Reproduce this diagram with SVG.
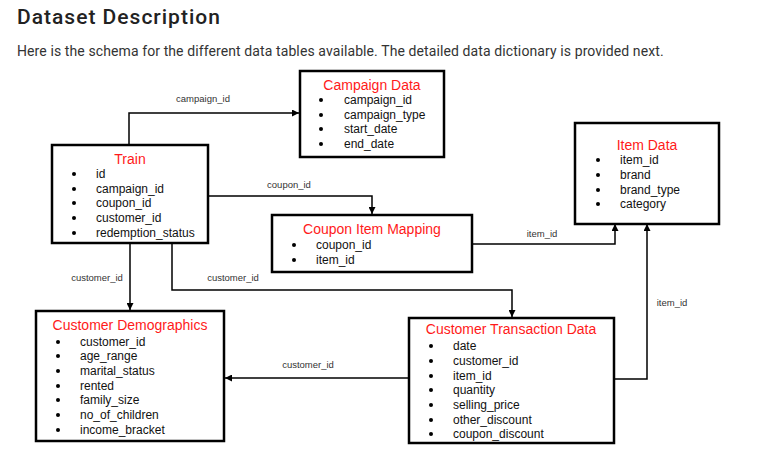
<svg xmlns="http://www.w3.org/2000/svg" width="764" height="470" viewBox="0 0 764 470">
<style>
.bg{fill:#fff}
.h1{font-family:Roboto,"Liberation Sans",sans-serif;font-size:21px;font-weight:500;fill:#222;letter-spacing:1px}
.sub{font-family:Roboto,"Liberation Sans",sans-serif;font-size:14px;fill:#333;letter-spacing:0.1px}
.box{fill:#fff;stroke:#000;stroke-width:2.5}
.ttl{font-family:"Liberation Sans",Arial,sans-serif;font-size:14px;fill:#ff1a1a;text-anchor:middle}
.it{font-family:"Liberation Sans",Arial,sans-serif;font-size:12px;fill:#111}
.bl{fill:#000}
.ln{fill:none;stroke:#000;stroke-width:1.5}
.lb{font-family:"Liberation Sans",Arial,sans-serif;font-size:9.5px;fill:#333;text-anchor:middle}
</style>
<defs>
<marker id="ar" viewBox="0 0 10 10" refX="10" refY="5" markerWidth="7" markerHeight="7" markerUnits="userSpaceOnUse" orient="auto">
<path d="M0,0 L10,5 L0,10 z" fill="#000"/>
</marker>
</defs>
<rect class="bg" x="0" y="0" width="764" height="470"/>
<text class="h1" x="17" y="24">Dataset Description</text>
<text class="sub" x="17" y="56">Here is the schema for the different data tables available. The detailed data dictionary is provided next.</text>

<g id="connectors">
<polyline class="ln" points="129,145 129,113 299,113" marker-end="url(#ar)"/>
<text class="lb" x="203" y="102">campaign_id</text>
<polyline class="ln" points="208,196 372,196 372,214" marker-end="url(#ar)"/>
<text class="lb" x="289" y="188">coupon_id</text>
<polyline class="ln" points="130,243 130,310" marker-end="url(#ar)"/>
<text class="lb" x="97" y="281">customer_id</text>
<polyline class="ln" points="172,243 172,290 512,290 512,317" marker-end="url(#ar)"/>
<text class="lb" x="233" y="281">customer_id</text>
<polyline class="ln" points="472,244 615,244 615,224" marker-end="url(#ar)"/>
<text class="lb" x="542" y="237">item_id</text>
<polyline class="ln" points="614,379 647,379 647,224" marker-end="url(#ar)"/>
<text class="lb" x="672" y="306">item_id</text>
<polyline class="ln" points="409,378 225,378" marker-end="url(#ar)"/>
<text class="lb" x="308" y="368">customer_id</text>
</g>

<g id="campaign">
<rect class="box" x="300" y="71" width="144" height="86"/>
<text class="ttl" x="372" y="90">Campaign Data</text>
<circle class="bl" cx="321" cy="100" r="2"/><text class="it" x="344" y="104">campaign_id</text>
<circle class="bl" cx="321" cy="115" r="2"/><text class="it" x="344" y="119">campaign_type</text>
<circle class="bl" cx="321" cy="129" r="2"/><text class="it" x="344" y="133">start_date</text>
<circle class="bl" cx="321" cy="144" r="2"/><text class="it" x="344" y="148">end_date</text>
</g>

<g id="train">
<rect class="box" x="52" y="145" width="156" height="98"/>
<text class="ttl" x="130" y="164">Train</text>
<circle class="bl" cx="74" cy="174" r="2"/><text class="it" x="96" y="178">id</text>
<circle class="bl" cx="74" cy="189" r="2"/><text class="it" x="96" y="193">campaign_id</text>
<circle class="bl" cx="74" cy="203" r="2"/><text class="it" x="96" y="207">coupon_id</text>
<circle class="bl" cx="74" cy="218" r="2"/><text class="it" x="96" y="222">customer_id</text>
<circle class="bl" cx="74" cy="233" r="2"/><text class="it" x="96" y="237">redemption_status</text>
</g>

<g id="item">
<rect class="box" x="575" y="123" width="144" height="101"/>
<text class="ttl" x="647" y="150">Item Data</text>
<circle class="bl" cx="598" cy="160" r="2"/><text class="it" x="620" y="164">item_id</text>
<circle class="bl" cx="598" cy="175" r="2"/><text class="it" x="620" y="179">brand</text>
<circle class="bl" cx="598" cy="190" r="2"/><text class="it" x="620" y="194">brand_type</text>
<circle class="bl" cx="598" cy="204" r="2"/><text class="it" x="620" y="208">category</text>
</g>

<g id="coupon">
<rect class="box" x="272" y="215" width="200" height="57"/>
<text class="ttl" x="372" y="234">Coupon Item Mapping</text>
<circle class="bl" cx="294" cy="245" r="2"/><text class="it" x="316" y="249">coupon_id</text>
<circle class="bl" cx="294" cy="260" r="2"/><text class="it" x="316" y="264">item_id</text>
</g>

<g id="demographics">
<rect class="box" x="36" y="311" width="188" height="130"/>
<text class="ttl" x="130" y="330">Customer Demographics</text>
<circle class="bl" cx="58" cy="342" r="2"/><text class="it" x="80" y="346">customer_id</text>
<circle class="bl" cx="58" cy="356" r="2"/><text class="it" x="80" y="360">age_range</text>
<circle class="bl" cx="58" cy="371" r="2"/><text class="it" x="80" y="375">marital_status</text>
<circle class="bl" cx="58" cy="386" r="2"/><text class="it" x="80" y="390">rented</text>
<circle class="bl" cx="58" cy="400" r="2"/><text class="it" x="80" y="404">family_size</text>
<circle class="bl" cx="58" cy="415" r="2"/><text class="it" x="80" y="419">no_of_children</text>
<circle class="bl" cx="58" cy="430" r="2"/><text class="it" x="80" y="434">income_bracket</text>
</g>

<g id="transaction">
<rect class="box" x="409" y="318" width="205" height="125"/>
<text class="ttl" x="511" y="334">Customer Transaction Data</text>
<circle class="bl" cx="431" cy="346" r="2"/><text class="it" x="453" y="350">date</text>
<circle class="bl" cx="431" cy="361" r="2"/><text class="it" x="453" y="365">customer_id</text>
<circle class="bl" cx="431" cy="376" r="2"/><text class="it" x="453" y="380">item_id</text>
<circle class="bl" cx="431" cy="390" r="2"/><text class="it" x="453" y="394">quantity</text>
<circle class="bl" cx="431" cy="405" r="2"/><text class="it" x="453" y="409">selling_price</text>
<circle class="bl" cx="431" cy="420" r="2"/><text class="it" x="453" y="424">other_discount</text>
<circle class="bl" cx="431" cy="434" r="2"/><text class="it" x="453" y="438">coupon_discount</text>
</g>
</svg>
